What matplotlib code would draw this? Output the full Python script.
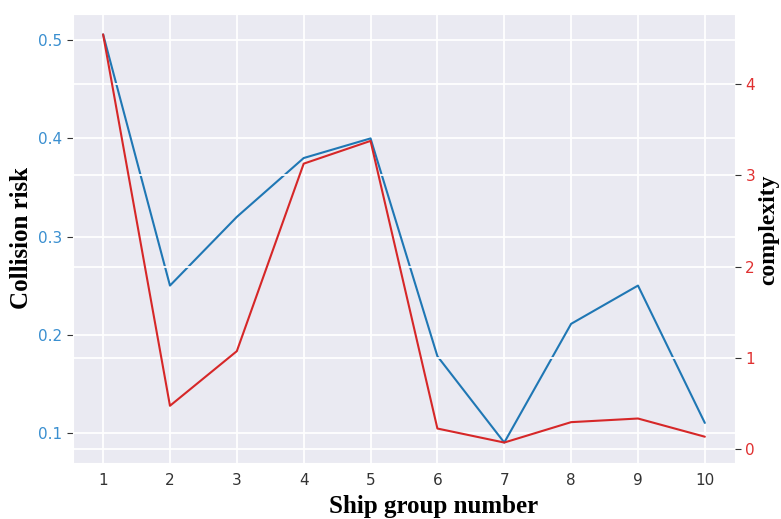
import matplotlib
matplotlib.use("Agg")
import matplotlib.pyplot as plt
import seaborn as sns

# 船舶群编号与对应的碰撞风险、复杂度
groups = [1, 2, 3, 4, 5, 6, 7, 8, 9, 10]
risk = [0.506, 0.25, 0.32, 0.38, 0.40, 0.178, 0.09, 0.211, 0.25, 0.11]
complexity = [4.55, 0.47, 1.07, 3.13, 3.38, 0.22, 0.066, 0.29, 0.33, 0.13]

sns.set_style("darkgrid", {"grid.linewidth": 1.3})
plt.rcParams['font.family'] = ['DejaVu Sans']
plt.rcParams['grid.linewidth'] = 1.3

fig = plt.figure(figsize=(7.81, 5.19), dpi=100)
ax1 = fig.add_axes([0.0935, 0.108, 0.8475, 0.865])
ax1.plot(groups, risk, color="#1f77b4", linewidth=1.5)
ax1.set_xticks(groups)
ax1.set_yticks([0.1, 0.2, 0.3, 0.4, 0.5])
ax1.tick_params(axis="y", colors="#3a8fd0", labelsize=11, length=4, left=True)
ax1.tick_params(axis="y", which="both", color="#333333")
ax1.tick_params(axis="x", labelsize=11, colors="#333333")
ax1.set_xlabel("Ship group number", fontsize=18, fontweight="bold",
               family="Liberation Serif", color="black")
ax1.xaxis.set_label_coords(0.544, -0.072)
ax1.set_ylabel("Collision risk", fontsize=18, fontweight="bold",
               family="Liberation Serif", color="black")

ax2 = ax1.twinx()
ax2.plot(groups, complexity, color="#d62728", linewidth=1.5)
ax2.set_yticks([0, 1, 2, 3, 4])
ax2.tick_params(axis="y", colors="#e03030", labelsize=11, length=4, right=True)
ax2.tick_params(axis="y", which="both", color="#333333")
ax2.set_ylabel("complexity", fontsize=17, fontweight="bold",
               family="Liberation Serif", color="black")
ax2.yaxis.set_label_coords(1.035, 0.52)
for s in ax2.spines.values():
    s.set_visible(False)

fig.savefig("out.png", dpi=100)
